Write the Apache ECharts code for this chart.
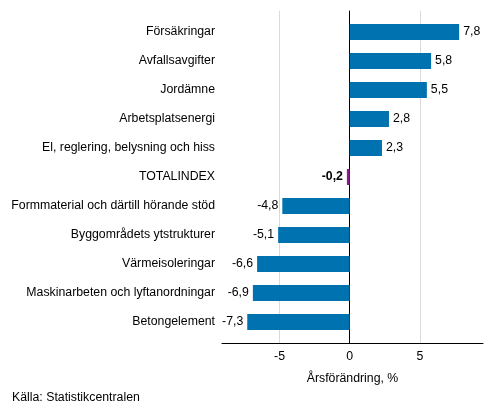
<!DOCTYPE html>
<html>
<head>
<meta charset="utf-8">
<script src="https://cdn.jsdelivr.net/npm/echarts@6/dist/echarts.min.js"></script>
<style>
  html, body { margin: 0; padding: 0; background: #fff; }
  #chart { width: 493px; height: 416px; }
</style>
</head>
<body>
<div id="chart"></div>
<script>
let categories = [
    "Försäkringar",
    "Avfallsavgifter",
    "Jordämne",
    "Arbetsplatsenergi",
    "El, reglering, belysning och hiss",
    "TOTALINDEX",
    "Formmaterial och därtill hörande stöd",
    "Byggområdets ytstrukturer",
    "Värmeisoleringar",
    "Maskinarbeten och lyftanordningar",
    "Betongelement"
];
let values = [7.8, 5.8, 5.5, 2.8, 2.3, -0.2, -4.8, -5.1, -6.6, -6.9, -7.3];
let tickValues = [-5, 0, 5];
let xMin = -9.1;
let xMax = 9.5;

const font = "Liberation Sans, Arial, sans-serif";
const fs = 12.3;
const blue = "#0072b0";
const purple = "#8e1b8e";

function fmt(v) {
    return String(v).replace(".", ",");
}

const barData = values.map(function (v, i) {
    const isTotal = categories[i] === "TOTALINDEX";
    return {
        value: v,
        itemStyle: { color: isTotal ? purple : blue },
        label: {
            position: v < 0 ? "left" : "right",
            fontWeight: isTotal ? "bold" : "normal"
        }
    };
});

const dom = document.getElementById("chart");
const myChart = echarts.init(dom, null, { renderer: "canvas" });
const option = {
    animation: false,
    textStyle: { fontFamily: font },
    grid: [
        // frame: gridlines, zero line, bottom axis
        { left: 222, right: 10, top: 11, bottom: 73 },
        // bars
        { left: 222, right: 10, top: 17.5, bottom: 79.5 }
    ],
    xAxis: [{
        gridIndex: 0,
        type: "value",
        min: xMin,
        max: xMax,
        axisLine: { show: true, onZero: false, lineStyle: { color: "#000", width: 1 } },
        axisTick: { show: false, customValues: tickValues },
        axisLabel: {
            customValues: tickValues,
            color: "#000",
            fontSize: fs,
            fontFamily: font,
            margin: 8,
            formatter: function (v) { return fmt(v); }
        },
        splitLine: { show: true, lineStyle: { color: "#d9d9d9", width: 1 } },
        name: "Årsförändring, %",
        nameLocation: "middle",
        nameGap: 30,
        nameTextStyle: { color: "#000", fontSize: fs, fontFamily: font }
    }, {
        gridIndex: 1,
        type: "value",
        min: xMin,
        max: xMax,
        show: false
    }],
    yAxis: [{
        gridIndex: 0,
        type: "value",
        min: 0,
        max: 1,
        axisLine: { show: true, onZero: true, lineStyle: { color: "#000", width: 1 } },
        axisTick: { show: false },
        axisLabel: { show: false },
        splitLine: { show: false }
    }, {
        gridIndex: 1,
        type: "category",
        inverse: true,
        data: categories,
        axisLine: { show: false },
        axisTick: { show: false },
        axisLabel: {
            color: "#000",
            fontSize: fs,
            fontFamily: font,
            margin: 7
        }
    }],
    series: [{
        name: "Årsförändring",
        type: "bar",
        xAxisIndex: 1,
        yAxisIndex: 1,
        barWidth: 16,
        data: barData,
        z: 3,
        label: {
            show: true,
            color: "#000",
            fontSize: fs,
            fontFamily: font,
            distance: 4,
            formatter: function (p) { return fmt(p.value); }
        }
    }],
    graphic: [{
        type: "text",
        left: 12,
        top: 392,
        style: {
            text: "Källa: Statistikcentralen",
            fill: "#000",
            fontSize: fs,
            fontFamily: font
        }
    }]
};
if (option && typeof option === "object") {
    myChart.setOption(option, true);
}
</script>
</body>
</html>
